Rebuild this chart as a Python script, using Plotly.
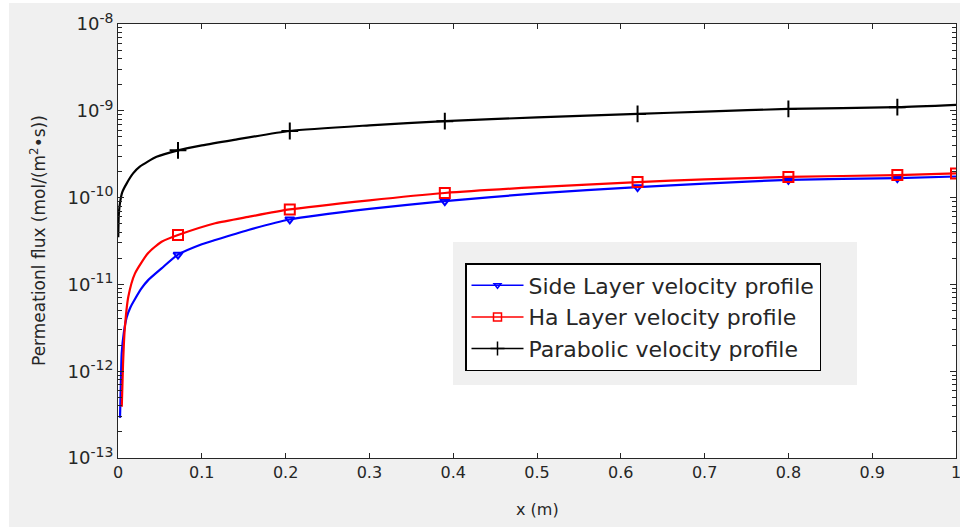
import plotly.graph_objects as go

# ---- data ----
side_x = [0.0024, 0.0035, 0.0044, 0.007, 0.0104, 0.015, 0.0203, 0.028, 0.036, 0.052, 0.0716,
          0.1, 0.116, 0.1555, 0.205, 0.3, 0.39, 0.5, 0.62, 0.7, 0.8, 0.93, 1.0]
side_y = [2.9e-13, 8e-13, 1.6e-12, 2.8e-12, 4.2e-12, 5.5e-12, 6.8e-12, 9.0e-12, 1.12e-11, 1.53e-11, 2.2e-11,
          2.9e-11, 3.25e-11, 4.24e-11, 5.6e-11, 7.4e-11, 9.1e-11, 1.12e-10, 1.32e-10, 1.45e-10, 1.6e-10, 1.68e-10, 1.75e-10]

ha_x = [0.0045, 0.006, 0.008, 0.0123, 0.0203, 0.036, 0.052, 0.0716,
        0.116, 0.1555, 0.205, 0.3, 0.39, 0.5, 0.62, 0.7, 0.8, 0.93, 1.0]
ha_y = [3.9e-13, 1.2e-12, 3.0e-12, 7.2e-12, 1.34e-11, 2.3e-11, 3.1e-11, 3.7e-11,
        5.06e-11, 6.0e-11, 7.3e-11, 9.3e-11, 1.13e-10, 1.32e-10, 1.51e-10, 1.62e-10, 1.73e-10, 1.82e-10, 1.9e-10]

par_x = [0.0003, 0.001, 0.0024, 0.005, 0.0104, 0.018, 0.026, 0.046, 0.0716, 0.1, 0.137,
         0.205, 0.3, 0.39, 0.5, 0.62, 0.7, 0.8, 0.93, 1.0]
par_y = [3.5e-11, 6.5e-11, 8.7e-11, 1.15e-10, 1.46e-10, 1.9e-10, 2.27e-10, 2.95e-10, 3.5e-10, 4.0e-10, 4.6e-10,
         5.85e-10, 6.8e-10, 7.6e-10, 8.4e-10, 9.2e-10, 9.8e-10, 1.05e-9, 1.1e-9, 1.17e-9]

mk_x = [0.0716, 0.205, 0.39, 0.62, 0.80, 0.93]
side_mk_y = [2.2e-11, 5.6e-11, 9.1e-11, 1.32e-10, 1.6e-10, 1.68e-10]
ha_mk_x = [0.0716, 0.205, 0.39, 0.62, 0.80, 0.93, 1.0]
ha_mk_y = [3.7e-11, 7.3e-11, 1.13e-10, 1.51e-10, 1.73e-10, 1.82e-10, 1.9e-10]
par_mk_y = [3.5e-10, 5.85e-10, 7.6e-10, 9.2e-10, 1.05e-9, 1.1e-9]

names = ["Side Layer velocity profile", "Ha Layer velocity profile", "Parabolic velocity profile"]
y_exps = [-13, -12, -11, -10, -9, -8]
x_ticks = [0, 0.1, 0.2, 0.3, 0.4, 0.5, 0.6, 0.7, 0.8, 0.9, 1]
x_ticktext = ["0", "0.1", "0.2", "0.3", "0.4", "0.5", "0.6", "0.7", "0.8", "0.9", "1"]
x_title = "x (m)"
y_title = "Permeationl flux (mol/(m<sup>2</sup>•s))"

BLUE = "#0000ff"
RED = "#ff0000"
BLACK = "#000000"
TXT = "#262626"
FONT = "DejaVu Sans"

# plot-area geometry in pixels
L, R, T, B = 118, 956, 24, 458
PW, PH = R - L, B - T


def px_x(p):
    return (p - L) / PW


def px_y(p):
    return (B - p) / PH


fig = go.Figure()

series = [
    (side_x, side_y, mk_x, side_mk_y, BLUE, "triangle-down-open", 8),
    (ha_x, ha_y, ha_mk_x, ha_mk_y, RED, "square-open", 10),
    (par_x, par_y, mk_x, par_mk_y, BLACK, "cross-thin-open", 12),
]
for (lx, ly, mx, my, col, sym, sz), nm in zip(series, names):
    fig.add_trace(go.Scatter(x=lx, y=ly, mode="lines", line=dict(color=col, width=2.2, shape="spline", smoothing=0.6),
                             showlegend=False, hoverinfo="skip"))
    fig.add_trace(go.Scatter(x=mx, y=my, mode="markers",
                             marker=dict(symbol=sym, size=sz, color=col, line=dict(color=col, width=2)),
                             showlegend=False))
    fig.add_trace(go.Scatter(x=[None], y=[None], mode="lines+markers", name=nm,
                             line=dict(color=col, width=1.5),
                             marker=dict(symbol=sym, size=sz - 2, color=col, line=dict(color=col, width=1.5))))

minor_vals = [k * 10.0 ** e for e in y_exps[:-1] for k in range(2, 10)]

fig.update_layout(
    width=960, height=527,
    margin=dict(l=L, r=960 - R, t=T, b=527 - B, autoexpand=False),
    paper_bgcolor="#f0f0f0",
    plot_bgcolor="#ffffff",
    font=dict(family=FONT, color=TXT),
    showlegend=True,
    legend=dict(x=px_x(465), y=px_y(263), xanchor="left", yanchor="top",
                bgcolor="#ffffff", bordercolor="#000000", borderwidth=1.5,
                font=dict(family=FONT, size=22, color=TXT),
                itemwidth=52, tracegroupgap=0),
    xaxis=dict(range=[0, 1], tickmode="array", tickvals=x_ticks, ticktext=x_ticktext,
               ticks="inside", ticklen=5, tickcolor=TXT, mirror="allticks", automargin=False,
               ticklabeloverflow="allow",
               showline=True, linecolor=TXT, linewidth=1, showgrid=False, zeroline=False,
               tickfont=dict(family=FONT, size=16, color=TXT)),
    yaxis=dict(type="log", range=[-13, -8], tickmode="array", automargin=False,
               tickvals=[10.0 ** e for e in y_exps],
               ticktext=["10<sup><span style='font-size:14px'>%d</span></sup>" % e for e in y_exps],
               ticks="inside", ticklen=6, tickcolor=TXT, mirror="allticks",
               ticklabeloverflow="allow",
               minor=dict(tickmode="array", tickvals=minor_vals, ticks="inside", ticklen=4,
                          tickcolor=TXT, showgrid=False),
               showline=True, linecolor=TXT, linewidth=1, showgrid=False, zeroline=False,
               tickfont=dict(family=FONT, size=18, color=TXT)),
    annotations=[
        dict(text=y_title, xref="paper", yref="paper", x=px_x(38), y=0.5, textangle=-90,
             xanchor="center", yanchor="middle", showarrow=False,
             font=dict(family=FONT, size=17, color=TXT)),
        dict(text=x_title, xref="paper", yref="paper", x=0.5, y=px_y(510),
             xanchor="center", yanchor="middle", showarrow=False,
             font=dict(family=FONT, size=16, color=TXT)),
    ],
    shapes=[
        dict(type="rect", xref="paper", yref="paper",
             x0=px_x(453), x1=px_x(857), y0=px_y(385), y1=px_y(242),
             fillcolor="#f0f0f0", line=dict(width=0), layer="below"),
        dict(type="rect", xref="paper", yref="paper",
             x0=px_x(0), x1=px_x(9), y0=px_y(527), y1=px_y(0),
             fillcolor="#ffffff", line=dict(width=0), layer="below"),
        dict(type="rect", xref="paper", yref="paper",
             x0=px_x(0), x1=px_x(960), y0=px_y(3), y1=px_y(0),
             fillcolor="#ffffff", line=dict(width=0), layer="below"),
    ],
)

fig.write_html("out.html", config={"displayModeBar": False},
               post_script="document.body.style.margin='0';document.body.style.overflow='hidden';")
